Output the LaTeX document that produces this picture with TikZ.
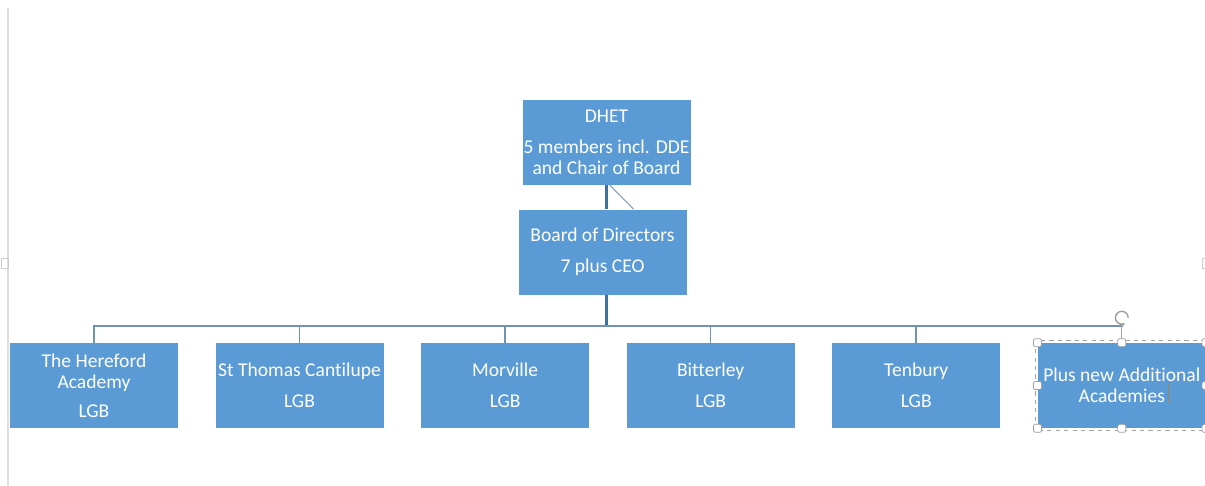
\documentclass[tikz,border=0pt]{standalone}
\usepackage{fontspec}
\setmainfont[Ligatures=NoCommon]{Carlito}
\usetikzlibrary{positioning}
\definecolor{boxblue}{RGB}{91,155,213}
\definecolor{trunkblue}{RGB}{65,113,156}
\definecolor{branchblue}{RGB}{112,146,182}
\definecolor{gripgray}{RGB}{160,160,160}

\begin{document}
\begin{tikzpicture}[node distance=0.925cm,
  unit/.style={rectangle, fill=boxblue, text=white, align=center, minimum width=4.2cm, minimum height=2.125cm, inner sep=0pt, font=\fontsize{13.9}{15}\selectfont},
  trunk/.style={draw=trunkblue, line width=1.6pt},
  branch/.style={draw=branchblue, line width=1.1pt},
  grip/.style={draw=gripgray, fill=white, line width=0.5pt, rounded corners=1pt, minimum size=0.2cm, inner sep=0pt}]
\useasboundingbox (0,0) rectangle (30.125,12.15);

% page margin of the editor
\draw [gray!25, line width=0.8pt] (0.2,0) -- (0.2,11.95);
\draw [gray!40, line width=0.4pt] (0.02,5.45) rectangle (0.2,5.7);
\draw [gray!40, line width=0.4pt] (30.05,5.45) rectangle (30.125,5.7);

\node [unit] (dhet) at (15.1625,8.5875) {DHET\\[7pt]5 members incl. DDE\\and Chair of Board};
\node [unit, below = 0.6cm of dhet, xshift=-0.1cm] (board) {Board of Directors\\[7pt]7 plus CEO};

\node [unit] (hereford) at (2.35,2.5125) {The Hereford\\Academy\\[5.5pt]LGB};
\node [unit, right = of hereford] (cantilupe) {St Thomas Cantilupe\\[7pt]LGB};
\node [unit, right = of cantilupe] (morville) {Morville\\[7pt]LGB};
\node [unit, right = of morville] (bitterley) {Bitterley\\[7pt]LGB};
\node [unit, right = of bitterley] (tenbury) {Tenbury\\[7pt]LGB};
\node [unit, right = of tenbury] (additional) {Plus new Additional\\Academies};

\coordinate (bus) at ([yshift=-0.775cm]dhet.south |- board.south);

\draw [trunk] (dhet.south) -- (dhet.south |- board.north);
\draw [branch, line width=0.6pt] ([xshift=0.08cm]dhet.south) -- ([xshift=0.78cm]board.north);
\draw [trunk] (dhet.south |- board.south) -- (bus);
\foreach \unitname in {hereford, cantilupe, morville, bitterley, tenbury}
  \draw [branch] (bus) -| (\unitname.north);
\draw [branch] (bus) -- (bus -| additional.north);

% selection of the last box
\draw [gripgray, dashed, line width=0.5pt] ([xshift=-0.05cm, yshift=0.05cm]additional.north west) rectangle ([xshift=0.05cm, yshift=-0.05cm]additional.south east);
\draw [gripgray, line width=0.6pt] (additional.north) -- ++(0,0.45);
\draw [gripgray, line width=1pt, ->, >=stealth] ([yshift=0.625cm]additional.north) ++(0:0.16) arc (0:300:0.16);
\foreach \spot [count=\i] in {north west, north, west, south west, south, north east, east, south east}
  \node [grip] (grip\i) at (additional.\spot) {};
\draw [brown!60!gray, line width=0.7pt] ([xshift=1.17cm, yshift=0.05cm]additional.center) -- ++(0,-0.5);

\end{tikzpicture}
\end{document}
